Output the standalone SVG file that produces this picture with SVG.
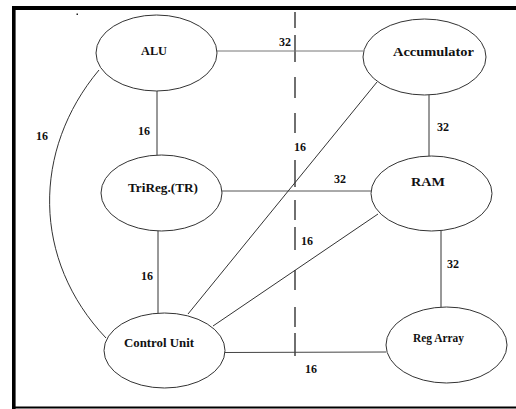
<svg xmlns="http://www.w3.org/2000/svg" width="516" height="409" viewBox="0 0 516 409">
<style>
.node ellipse{fill:#fff;stroke:#333;stroke-width:1}
text{font-family:"Liberation Serif","DejaVu Serif",serif;font-weight:bold;font-size:12px;fill:#111}
.conn line,.conn path{stroke:#333;stroke-width:1;fill:none}
</style>
<rect width="516" height="409" fill="#fff"/>
<g id="frame">
<line x1="12" y1="8" x2="516" y2="8" stroke="#000" stroke-width="4"/>
<line x1="13.8" y1="6" x2="13.8" y2="409" stroke="#000" stroke-width="3.6"/>
<line x1="12" y1="407.5" x2="516" y2="407.5" stroke="#000" stroke-width="2"/>
<rect x="76.5" y="13.5" width="1.5" height="1.5" fill="#222"/>
</g>
<path id="divider" d="M295,12V28M295,35V62M295,77V98M295,113V133M295,160V187M295,200V220M295,227V250M295,270V290M295,307V327M295,333V356" stroke="#111" stroke-width="1.2" fill="none"/>
<g class="conn" id="connectors">
<line x1="217" y1="51" x2="363" y2="51" style="stroke:#777"/>
<line x1="157" y1="91" x2="157" y2="155"/>
<line x1="429" y1="95" x2="429" y2="156"/>
<line x1="222" y1="191" x2="371" y2="191" style="stroke:#555"/>
<line x1="158" y1="231" x2="158" y2="313"/>
<line x1="441" y1="231" x2="441" y2="307"/>
<line x1="225" y1="352.5" x2="386" y2="352" style="stroke:#444"/>
<line x1="377" y1="82" x2="188" y2="314"/>
<line x1="378" y1="214" x2="213" y2="326"/>
<path d="M99,70 C32,150 32,260 106,338"/>
</g>
<g id="labels">
<text x="279" y="46">32</text>
<text x="138" y="135">16</text>
<text x="36" y="140">16</text>
<text x="437" y="131">32</text>
<text x="294" y="151">16</text>
<text x="334" y="183">32</text>
<text x="301" y="245">16</text>
<text x="447" y="268">32</text>
<text x="141" y="280">16</text>
<text x="305" y="373">16</text>
</g>
<g class="node" id="alu">
<ellipse cx="156.5" cy="53" rx="60.5" ry="38"/>
<text x="141" y="54.5" textLength="26" lengthAdjust="spacingAndGlyphs">ALU</text>
</g>
<g class="node" id="accumulator">
<ellipse cx="424.5" cy="57" rx="61.5" ry="38"/>
<text x="393" y="55.5" textLength="81" lengthAdjust="spacingAndGlyphs">Accumulator</text>
</g>
<g class="node" id="trireg">
<ellipse cx="161.5" cy="193" rx="60.5" ry="38"/>
<text x="128" y="192" textLength="70" lengthAdjust="spacingAndGlyphs">TriReg.(TR)</text>
</g>
<g class="node" id="ram">
<ellipse cx="431.5" cy="193.5" rx="60.5" ry="37.5"/>
<text x="411" y="186" textLength="34" lengthAdjust="spacingAndGlyphs">RAM</text>
</g>
<g class="node" id="control">
<ellipse cx="164.5" cy="350.5" rx="60.5" ry="37.5"/>
<text x="124" y="347" textLength="70" lengthAdjust="spacingAndGlyphs">Control Unit</text>
</g>
<g class="node" id="regarray">
<ellipse cx="446.5" cy="345" rx="60.5" ry="38"/>
<text x="413" y="341.5" textLength="51" lengthAdjust="spacingAndGlyphs">Reg Array</text>
</g>
</svg>
